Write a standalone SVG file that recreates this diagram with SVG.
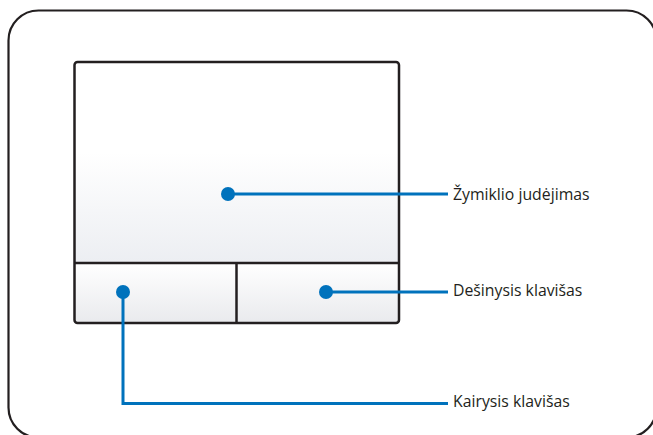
<svg xmlns="http://www.w3.org/2000/svg" width="653" height="435" viewBox="0 0 653 435">
<defs>
<linearGradient id="gPad" x1="0" y1="0" x2="0" y2="1">
<stop offset="0" stop-color="#ffffff"/>
<stop offset="0.45" stop-color="#ffffff"/>
<stop offset="1" stop-color="#eceef2"/>
</linearGradient>
<linearGradient id="gBtn" x1="0" y1="0" x2="0" y2="1">
<stop offset="0" stop-color="#ffffff"/>
<stop offset="1" stop-color="#e9eaed"/>
</linearGradient>
<style>
.frame{fill:#ffffff;stroke:#231f20;stroke-width:2.2}
.pad{stroke:#231f20;stroke-width:2.5}
.lead{fill:none;stroke:#0072bc;stroke-width:3}
.dot{fill:#0072bc}
.lbl{font-family:"Open Sans","Noto Sans","Liberation Sans",sans-serif;font-size:15.8px;fill:#231f20}
</style>
</defs>
<rect class="frame" x="8.5" y="10.5" width="648" height="427" rx="30"/>
<g id="touchpad">
<rect x="74.5" y="62" width="324.5" height="201" fill="url(#gPad)"/>
<rect x="74.5" y="263" width="162" height="60" fill="url(#gBtn)"/>
<rect x="236.5" y="263" width="162.5" height="60" fill="url(#gBtn)"/>
<rect class="pad" x="74.5" y="62" width="324.5" height="261" rx="3" fill="none"/>
<line class="pad" x1="74.5" y1="263" x2="399" y2="263"/>
<line class="pad" x1="236.5" y1="263" x2="236.5" y2="323"/>
</g>
<g id="connectors">
<line class="lead" x1="228" y1="194" x2="448" y2="194"/>
<line class="lead" x1="326" y1="292" x2="448" y2="292"/>
<polyline class="lead" points="123,292 123,403.5 448,403.5"/>
</g>
<g id="node-pointer">
<circle class="dot" cx="228" cy="194" r="7"/>
<text class="lbl" x="453" y="200">Žymiklio judėjimas</text>
</g>
<g id="node-right">
<circle class="dot" cx="326" cy="292" r="7"/>
<text class="lbl" x="453" y="296">Dešinysis klavišas</text>
</g>
<g id="node-left">
<circle class="dot" cx="123" cy="292" r="7"/>
<text class="lbl" x="453" y="407">Kairysis klavišas</text>
</g>
</svg>
